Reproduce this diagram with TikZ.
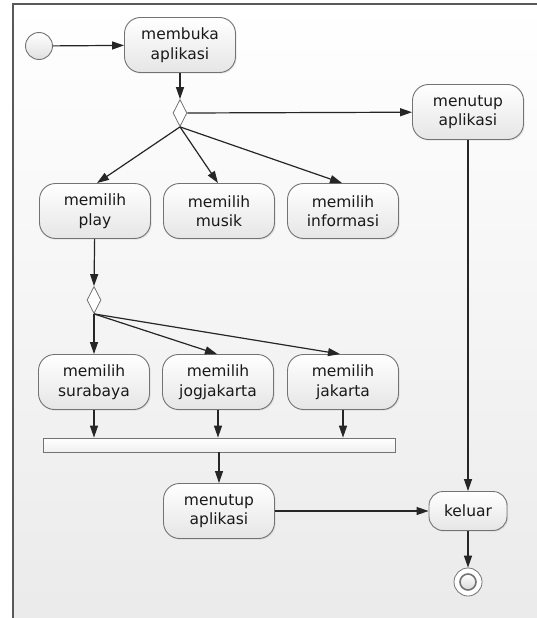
\documentclass[tikz,border=0pt]{standalone}
\usepackage{fontspec}
\setmainfont{DejaVu Sans}
\usetikzlibrary{shapes.geometric}
\usetikzlibrary{arrows.meta}
\usetikzlibrary{shadows}

\tikzset{
  aksi/.style={draw=black!55, line width=0.9pt, rounded corners=16pt,
    top color=white, bottom color=black!10,
    minimum width=111pt, minimum height=55pt, inner sep=2pt,
    align=center, text=black!90, font=\fontsize{15.5}{19.5}\selectfont,
    drop shadow={opacity=0.18, shadow xshift=1.2pt, shadow yshift=-1.2pt}},
  cabang/.style={diamond, draw=black!55, line width=0.8pt, fill=white,
    minimum width=14pt, minimum height=27pt, inner sep=0pt},
  batang/.style={draw=black!55, line width=0.8pt, top color=white,
    bottom color=black!6, minimum width=352pt, minimum height=14pt, inner sep=0pt},
  mulai/.style={circle, draw=black!55, line width=0.9pt, top color=white,
    bottom color=black!12, minimum size=27pt, inner sep=0pt},
  selesai/.style={circle, draw=black!55, line width=0.8pt, fill=white,
    minimum size=28pt, inner sep=0pt},
  alur/.style={draw=black!85, line width=1.2pt, -{Triangle[length=12pt,width=8pt]}}
}

\begin{document}
\begin{tikzpicture}[x=1pt,y=-1pt]
%%%
% latar dan bingkai
%%%
\useasboundingbox (0,0) rectangle (537,618);
\shade[top color=white, bottom color=black!8] (13,4) rectangle (537,618);
\draw[black!65, line width=1.5pt] (13,618) -- (13,4) -- (537,4);

%%%
% simpul
%%%
\node[mulai] (mulai) at (39,46) {};
\node[aksi] (buka) at (180,45) {membuka\\aplikasi};
\node[cabang] (c1) at (180,113) {};
\node[aksi] (tutup1) at (468,112) {menutup\\aplikasi};

\node[aksi] (play) at (95,211) {memilih\\play};
\node[aksi] (musik) at (219,211) {memilih\\musik};
\node[aksi] (info) at (343,211) {memilih\\informasi};

\node[cabang] (c2) at (94,300) {};
\node[aksi] (sby) at (94,382) {memilih\\surabaya};
\node[aksi] (jogja) at (218,382) {memilih\\jogjakarta};
\node[aksi] (jkt) at (343,382) {memilih\\jakarta};

\node[batang] (gabung) at (219,445) {};
\node[aksi] (tutup2) at (219,511) {menutup\\aplikasi};
\node[aksi, minimum width=78pt, minimum height=39pt, rounded corners=14pt] (keluar) at (468,511) {keluar};
\node[selesai] (akhir) at (468,582) {};
\draw[black!55, line width=1.6pt, top color=white, bottom color=black!15] (akhir) circle (8pt);

%%%
% alur
%%%
\draw[alur] (mulai) -- (buka);
\draw[alur] (buka) -- (c1.north);
\draw[alur] (c1.east) -- (tutup1);
\draw[alur] (c1.south) -- ([xshift=2pt]play.north);
\draw[alur] (c1.south) -- ([xshift=-1pt]musik.north);
\draw[alur] (c1.south) -- ([xshift=-1pt]info.north);

\draw[alur] (play) -- (c2.north);
\draw[alur] (c2.south) -- (sby.north);
\draw[alur] (c2.south) -- ([xshift=-1pt]jogja.north);
\draw[alur] (c2.south) -- ([xshift=-3pt]jkt.north);

\draw[alur] (sby) -- (sby |- gabung.north);
\draw[alur] (jogja) -- (jogja |- gabung.north);
\draw[alur] (jkt) -- (jkt |- gabung.north);
\draw[alur] (gabung.south) -- (tutup2);

\draw[alur] (tutup1) -- (keluar);
\draw[alur] (tutup2) -- (keluar);
\draw[alur] (keluar) -- (akhir);
\end{tikzpicture}
\end{document}
